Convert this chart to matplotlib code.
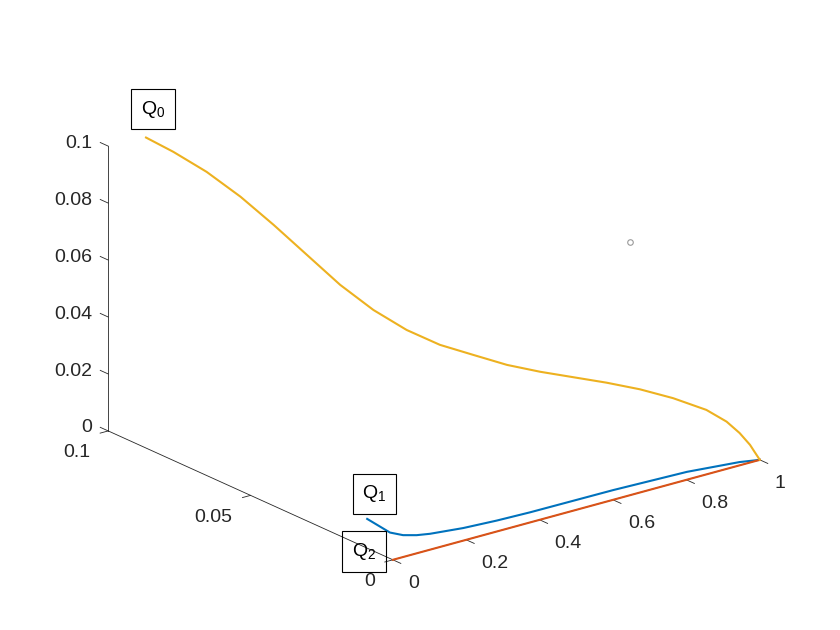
import matplotlib
matplotlib.use('Agg')
import matplotlib.pyplot as plt

plt.rcParams['font.family'] = ['Liberation Sans', 'DejaVu Sans']
plt.rcParams['mathtext.default'] = 'regular'

# Q0 (yellow)
q0_x = [0.058, 0.100, 0.151, 0.203, 0.254, 0.305, 0.356, 0.407, 0.458, 0.509, 0.560,
        0.612, 0.663, 0.714, 0.765, 0.816, 0.867, 0.918, 0.949, 0.969, 0.985, 0.992, 1.0]
q0_y = [0.0942, 0.0900, 0.0849, 0.0797, 0.0746, 0.0695, 0.0644, 0.0593, 0.0542, 0.0491, 0.0440,
        0.0388, 0.0337, 0.0286, 0.0235, 0.0184, 0.0133, 0.0082, 0.0051, 0.0031, 0.0015, 0.0008, 0.0]
q0_z = [0.1036, 0.0990, 0.0925, 0.0843, 0.0749, 0.0649, 0.0549, 0.0466, 0.0401, 0.0354, 0.0324,
        0.0294, 0.0275, 0.0261, 0.0247, 0.0229, 0.0203, 0.0167, 0.0129, 0.0091, 0.0051, 0.0027, 0.0]

# Q1 (blue)
q1_x = [0.110, 0.103, 0.0975, 0.110, 0.133, 0.161, 0.239, 0.324, 0.411, 0.637, 0.831, 0.957, 1.0]
q1_y = [0.0232, 0.0178, 0.0136, 0.0106, 0.0088, 0.0077, 0.0061, 0.0053, 0.0049, 0.0047, 0.0038, 0.0016, 0.0]
q1_z = [0.0] * 13

# Q2 (red)
q2_x = [0.0, 0.25, 0.5, 0.75, 1.0]
q2_y = [0.0, 0.0, 0.0, 0.0, 0.0]
q2_z = [0.0, 0.0, 0.0, 0.0, 0.0]

# stray point
pt = (0.646, 0.0, 0.0889)

x_ticks = [0, 0.2, 0.4, 0.6, 0.8, 1]
x_labels = ['0', '0.2', '0.4', '0.6', '0.8', '1']
y_ticks = [0, 0.05, 0.1]
y_labels = ['0', '0.05', '0.1']
z_ticks = [0, 0.02, 0.04, 0.06, 0.08, 0.1]
z_labels = ['0', '0.02', '0.04', '0.06', '0.08', '0.1']

fig = plt.figure(figsize=(8.4, 6.3), dpi=100)
ax = fig.add_axes([0.13155, 0.00556, 0.75, 1.0], projection='3d', proj_type='ortho')
ax.set_xlim(0, 1)
ax.set_ylim(0, 0.1)
ax.set_zlim(0, 0.1)
ax.set_xticks([])
ax.set_yticks([])
ax.set_zticks([])
ax.set_box_aspect((1, 1, 0.655), zoom=1.1153)
ax.view_init(elev=20.56, azim=-127.8)
ax.set_axis_off()
ax.computed_zorder = False

ac = '#262626'
lw_ax = 0.6
# axis lines
ax.plot([0, 1], [0, 0], [0, 0], color=ac, lw=lw_ax, zorder=1, clip_on=False)
ax.plot([0, 0], [0, 0.1], [0, 0], color=ac, lw=lw_ax, zorder=1, clip_on=False)
ax.plot([0, 0], [0.1, 0.1], [0, 0.1], color=ac, lw=lw_ax, zorder=1, clip_on=False)

for t, s in zip(x_ticks, x_labels):
    ax.plot([t, t], [0, -0.0028], [0, 0], color=ac, lw=lw_ax, zorder=1, clip_on=False)
    ax.text(t, -0.00526, -0.00534, s, ha='left', va='center_baseline',
            fontsize=14, color=ac)
for t, s in zip(y_ticks, y_labels):
    ax.plot([0, -0.022], [t, t], [0, 0], color=ac, lw=lw_ax, zorder=1, clip_on=False)
    ax.text(-0.049, t, -0.0053, s, ha='right', va='center_baseline',
            fontsize=14, color=ac)
for t, s in zip(z_ticks, z_labels):
    ax.plot([0, 0], [0.1, 0.1028], [t, t], color=ac, lw=lw_ax, zorder=1, clip_on=False)
    ax.text(0, 0.1056, t - 0.0008, s, ha='right', va='center_baseline',
            fontsize=14, color=ac)

ax.plot(q1_x, q1_y, q1_z, color='#0072BD', lw=1.5, zorder=3, clip_on=False)
ax.plot(q2_x, q2_y, q2_z, color='#D95319', lw=1.5, zorder=3, clip_on=False)
ax.plot(q0_x, q0_y, q0_z, color='#EDB120', lw=1.5, zorder=3, clip_on=False)

ax.plot([pt[0]], [pt[1]], [pt[2]], ls='none', marker='o', ms=4,
        mfc='white', mec='#999999', mew=0.8, zorder=4, clip_on=False)

box = dict(boxstyle='square,pad=0.5', fc='none', ec='black', lw=0.8)
ax.text(0, 0.0842, 0.1201, '$Q_0$', ha='center', va='center', fontsize=14, bbox=box)
ax.text(0, 0.0065, 0.0202, '$Q_1$', ha='center', va='center', fontsize=14, bbox=box)
ax.text(0, 0.0101, -0.0016, '$Q_2$', ha='center', va='center', fontsize=14, bbox=box)

fig.savefig('out.png', dpi=100)
